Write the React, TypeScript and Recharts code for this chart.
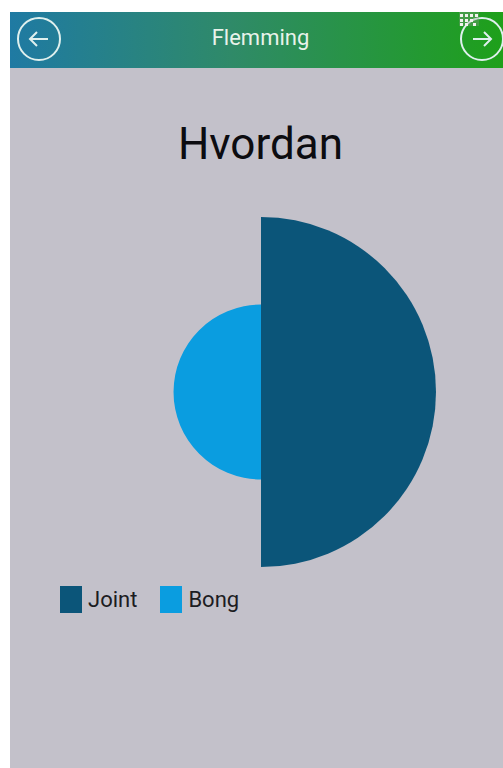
import React from 'react'
import { PieChart, Pie, Cell, Legend } from 'recharts'

const categories = ['Joint', 'Bong']
const values = [2, 1]
const sliceWeights = [1, 1]
const colors = ['#0b5579', '#0a9de0']

const RADIUS_PER_UNIT = 87.5

const data = categories.map((name, i) => ({
  name,
  value: values[i],
  weight: sliceWeights[i],
}))

const CircleArrow: React.FC<{ x: number; dir: 'left' | 'right' }> = ({ x, dir }) => (
  <svg
    width={46}
    height={46}
    viewBox="0 0 46 46"
    style={{ position: 'absolute', left: x, top: 16 }}
  >
    <circle cx={23} cy={23} r={21} fill="none" stroke="#dff0ee" strokeWidth={2} />
    <path
      d={dir === 'left' ? 'M32 23H14M21 16l-7 7 7 7' : 'M14 23H32M25 16l7 7-7 7'}
      fill="none"
      stroke="#dff0ee"
      strokeWidth={2}
    />
  </svg>
)

const DotsIcon = () => (
  <svg width={20} height={14} style={{ position: 'absolute', left: 459, top: 12 }}>
    <rect x={0} y={0} width={20} height={14} fill="#8a9a8a" opacity={0.35} />
    {[[1, 2], [6, 2], [11, 2], [16, 2], [1, 7], [6, 7], [11, 7], [1, 11], [6, 11], [14, 11]].map(([x, y]) => (
      <rect key={`${x}-${y}`} x={x} y={y} width={3} height={3} fill="#f1f1ee" />
    ))}
  </svg>
)

const LegendContent = () => (
  <div style={{ display: 'flex', alignItems: 'center', fontFamily: 'Roboto', fontSize: 22, color: '#1c1c22' }}>
    {categories.map((name, i) => (
      <span key={name} style={{ display: 'flex', alignItems: 'center', marginRight: 23 }}>
        <span style={{ width: 22, height: 27, background: colors[i], marginRight: 6 }} />
        {name}
      </span>
    ))}
  </div>
)

export default function App() {
  return (
    <div style={{ position: 'fixed', left: 0, top: 0, width: 503, height: 768, background: '#fff', overflow: 'hidden' }}>
      <div style={{ position: 'absolute', left: 10, top: 12, width: 493, height: 756, background: '#c3c1ca' }} />
      <div
        style={{
          position: 'absolute',
          left: 10,
          top: 12,
          width: 493,
          height: 56,
          background: 'linear-gradient(90deg, #1f7aa3 0%, #2f8a68 45%, #1ea01a 100%)',
        }}
      />
      <CircleArrow x={16} dir="left" />
      <CircleArrow x={459} dir="right" />
      <DotsIcon />
      <div
        style={{
          position: 'absolute',
          left: 10,
          top: 12,
          width: 501,
          height: 52,
          lineHeight: '52px',
          textAlign: 'center',
          fontFamily: 'Roboto',
          fontSize: 22,
          color: '#e8f2ea',
        }}
      >
        Flemming
      </div>
      <div
        style={{
          position: 'absolute',
          left: 10,
          top: 118,
          width: 501,
          textAlign: 'center',
          fontFamily: 'Roboto',
          fontSize: 44,
          lineHeight: '52px',
          color: '#0c0c10',
        }}
      >
        Hvordan
      </div>
      <div style={{ position: 'absolute', left: 10, top: 190 }}>
        <PieChart width={493} height={440}>
          <Pie
            data={data}
            dataKey="weight"
            nameKey="name"
            cx={246}
            cy={197}
            innerRadius={0}
            outerRadius={(d: { value: number }) => d.value * RADIUS_PER_UNIT}
            startAngle={90}
            endAngle={-270}
            stroke="none"
            isAnimationActive={false}
          >
            {data.map((d, i) => (
              <Cell key={d.name} fill={colors[i]} />
            ))}
          </Pie>
          <Legend
            content={<LegendContent />}
            wrapperStyle={{ position: 'absolute', left: 50, top: 396, width: 300, height: 30 }}
          />
        </PieChart>
      </div>
    </div>
  )
}
